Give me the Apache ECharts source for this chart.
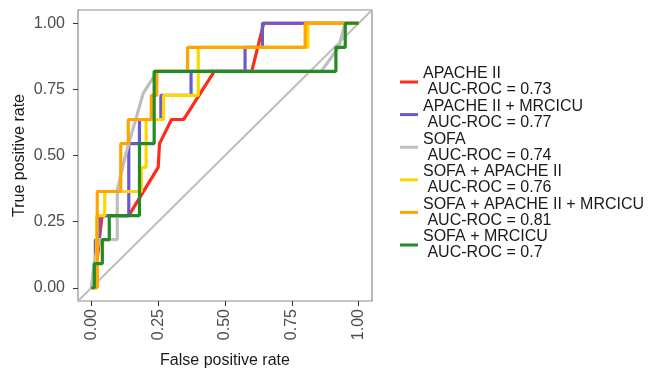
<!DOCTYPE html>
<html>
<head>
<meta charset="utf-8">
<script src="https://cdn.jsdelivr.net/npm/echarts@6/dist/echarts.min.js"></script>
<style>
  html, body { margin: 0; padding: 0; background: #fff; }
  #roc { width: 649px; height: 374px; }
</style>
</head>
<body>
<div id="roc"></div>
<script>
// tick labels for both axes
var tickValues = [0, 0.25, 0.5, 0.75, 1];

// ROC curves (fpr / tpr pairs)
var apacheFpr = [0, 0.02, 0.03, 0.04, 0.14, 0.25, 0.255, 0.30, 0.345, 0.46, 0.60, 0.645, 1];
var apacheTpr = [0, 0.091, 0.182, 0.273, 0.273, 0.455, 0.545, 0.636, 0.636, 0.818, 0.818, 1, 1];

var apacheMrcFpr = [0, 0.015, 0.015, 0.03, 0.03, 0.14, 0.14, 0.18, 0.18, 0.26, 0.26, 0.373, 0.373, 0.575, 0.575, 0.64, 0.64, 1];
var apacheMrcTpr = [0, 0, 0.182, 0.182, 0.273, 0.273, 0.545, 0.545, 0.636, 0.636, 0.727, 0.727, 0.818, 0.818, 0.909, 0.909, 1, 1];

var sofaFpr = [0, 0.01, 0.03, 0.097, 0.097, 0.13, 0.194, 0.246, 0.86, 0.925, 0.95, 1];
var sofaTpr = [0, 0.091, 0.182, 0.182, 0.37, 0.51, 0.735, 0.818, 0.818, 0.909, 1, 1];

var sofaApacheFpr = [0, 0.02, 0.02, 0.05, 0.05, 0.187, 0.187, 0.205, 0.205, 0.27, 0.27, 0.40, 0.40, 0.81, 0.81, 1];
var sofaApacheTpr = [0, 0, 0.273, 0.273, 0.364, 0.364, 0.455, 0.455, 0.636, 0.636, 0.727, 0.727, 0.909, 0.909, 1, 1];

var allFpr = [0, 0.022, 0.022, 0.11, 0.11, 0.138, 0.138, 0.224, 0.224, 0.245, 0.245, 0.36, 0.36, 0.80, 0.80, 1];
var allTpr = [0, 0, 0.364, 0.364, 0.545, 0.545, 0.636, 0.636, 0.727, 0.727, 0.818, 0.818, 0.909, 0.909, 1, 1];

var sofaMrcFpr = [0, 0.011, 0.011, 0.041, 0.041, 0.067, 0.067, 0.18, 0.18, 0.235, 0.235, 0.915, 0.915, 0.95, 0.95, 1];
var sofaMrcTpr = [0, 0, 0.091, 0.091, 0.182, 0.182, 0.273, 0.273, 0.545, 0.545, 0.818, 0.818, 0.909, 0.909, 1, 1];

var names = [
  'APACHE II\n AUC-ROC = 0.73',
  'APACHE II + MRCICU\n AUC-ROC = 0.77',
  'SOFA\n AUC-ROC = 0.74',
  'SOFA + APACHE II\n AUC-ROC = 0.76',
  'SOFA + APACHE II + MRCICU\n AUC-ROC = 0.81',
  'SOFA + MRCICU\n AUC-ROC = 0.7'
];
var colors = ['#ff2a1a', '#6a5acd', '#bebebe', '#ffd700', '#ffa500', '#228b22'];
var curves = [
  [apacheFpr, apacheTpr],
  [apacheMrcFpr, apacheMrcTpr],
  [sofaFpr, sofaTpr],
  [sofaApacheFpr, sofaApacheTpr],
  [allFpr, allTpr],
  [sofaMrcFpr, sofaMrcTpr]
];
// chance line across the whole panel
var diagX = [-0.05, 1.05];
var diagY = [-0.05, 1.05];

function zip(xs, ys) {
  return xs.map(function (x, i) { return [x, ys[i]]; });
}

var chart = echarts.init(document.getElementById('roc'));

var series = [{
  name: 'diag',
  type: 'line',
  data: zip(diagX, diagY),
  symbol: 'none',
  silent: true,
  lineStyle: { color: '#bebebe', width: 2 },
  z: 1
}];
curves.forEach(function (c, i) {
  series.push({
    name: names[i],
    type: 'line',
    data: zip(c[0], c[1]),
    symbol: 'none',
    lineStyle: { color: colors[i], width: 3.2 },
    itemStyle: { color: colors[i] },
    z: 2 + i
  });
});

var axisText = { color: '#4d4d4d', fontSize: 16, fontFamily: 'Liberation Sans' };

chart.setOption({
  animation: false,
  textStyle: { fontFamily: 'Liberation Sans' },
  grid: {
    left: 78, right: 277, top: 10, bottom: 69,
    show: true, borderColor: '#8c8c8c', borderWidth: 1.2, backgroundColor: '#fff'
  },
  legend: {
    orient: 'vertical',
    left: 395,
    top: 61,
    data: names,
    icon: 'rect',
    itemWidth: 18,
    itemHeight: 3,
    itemGap: 0.6,
    textStyle: { color: '#1a1a1a', fontSize: 16, lineHeight: 16, fontFamily: 'Liberation Sans' }
  },
  xAxis: {
    type: 'value',
    min: -0.05,
    max: 1.05,
    name: 'False positive rate',
    nameLocation: 'middle',
    nameGap: 52,
    nameTextStyle: { color: '#1a1a1a', fontSize: 16 },
    axisLine: { show: false, onZero: false },
    splitLine: { show: false },
    axisTick: { show: true, length: 5, customValues: tickValues, lineStyle: { color: '#333' } },
    axisLabel: Object.assign({
      customValues: tickValues,
      rotate: 90,
      margin: 8,
      formatter: function (v) { return v.toFixed(2); }
    }, axisText)
  },
  yAxis: {
    type: 'value',
    min: -0.05,
    max: 1.05,
    name: 'True positive rate',
    nameLocation: 'middle',
    nameGap: 50,
    nameTextStyle: { color: '#1a1a1a', fontSize: 16 },
    axisLine: { show: false, onZero: false },
    splitLine: { show: false },
    axisTick: { show: true, length: 5, customValues: tickValues, lineStyle: { color: '#333' } },
    axisLabel: Object.assign({
      customValues: tickValues,
      margin: 13,
      formatter: function (v) { return v.toFixed(2); }
    }, axisText)
  },
  series: series
});
</script>
</body>
</html>
